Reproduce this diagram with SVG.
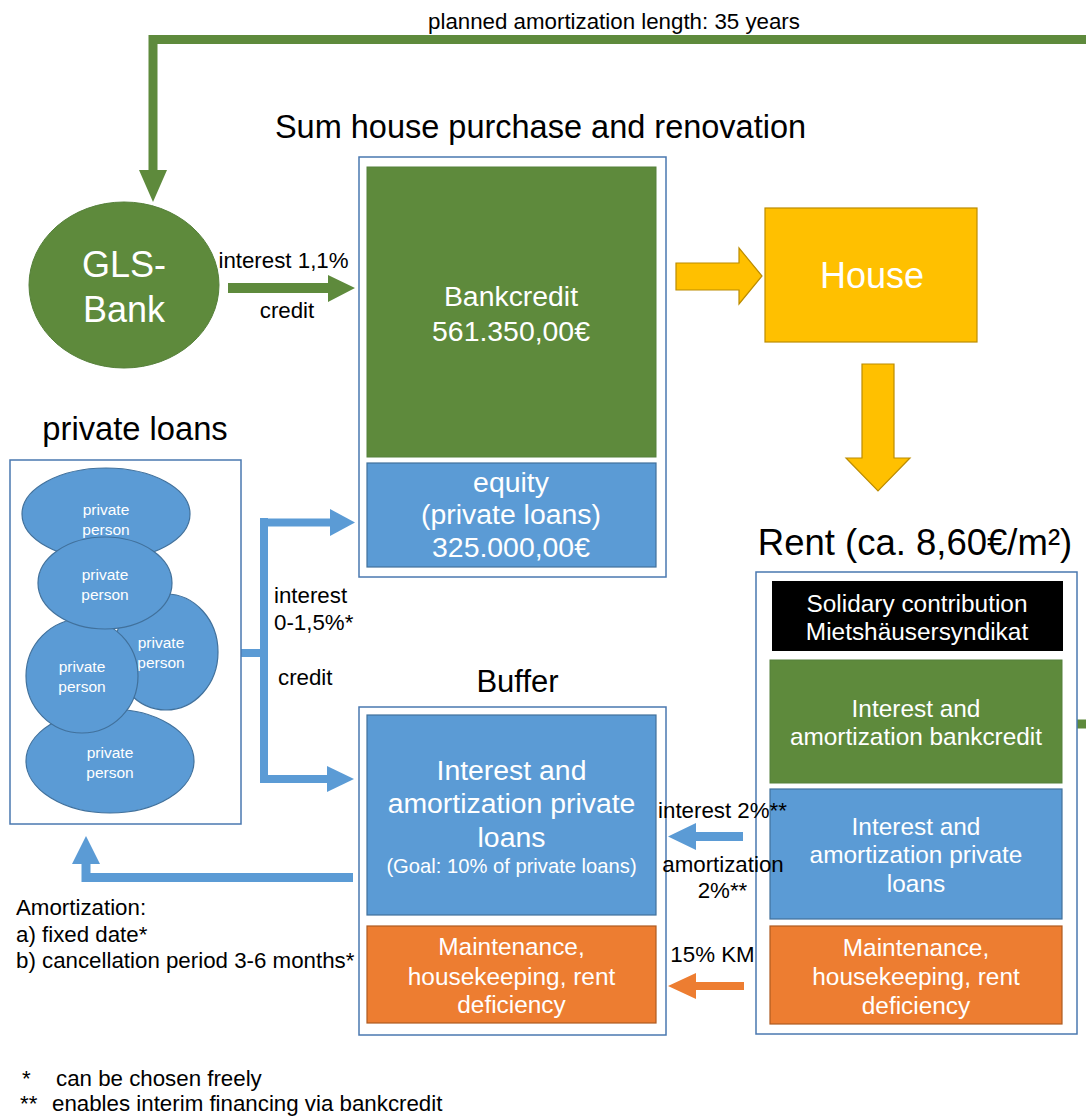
<svg xmlns="http://www.w3.org/2000/svg" width="1086" height="1117" viewBox="0 0 1086 1117">
<style>
text{font-family:"Liberation Sans",Arial,sans-serif;}
.w{fill:#fff;text-anchor:middle;}
.c{text-anchor:middle;}
.lbl{font-size:22.3px;}
.frame{fill:#fff;stroke:#4A78B0;stroke-width:1.5;}
.green{fill:#5E8A3C;stroke:#55803A;stroke-width:1;}
.blue{fill:#5B9BD5;stroke:#41719C;stroke-width:1.2;}
.orange{fill:#ED7D31;stroke:#AE5A21;stroke-width:1.2;}
.yellow{fill:#FFC000;stroke:#BC8C00;stroke-width:1.2;}
.pp{fill:#5B9BD5;stroke:#41719C;stroke-width:1.2;}
.ppt{fill:#fff;text-anchor:middle;font-size:15.5px;}
.big{font-size:28.4px;}
.mid{font-size:24.4px;}
</style>
<rect width="1086" height="1117" fill="#fff"/>

<g id="connectors">
  <path d="M1077,724 H1092 V39.5 H153 V172" fill="none" stroke="#5E8A3C" stroke-width="9"/>
  <polygon points="139,170 167,170 153,202" fill="#5E8A3C"/>
  <polygon points="228,283 328,283 328,275 355,288 328,302 328,293 228,293" fill="#5E8A3C"/>
  <polygon class="yellow" points="676,263 739,263 739,248 762,276 739,304 739,290 676,290"/>
  <polygon class="yellow" points="862,364 894,364 894,458 910,458 878,491 846,458 862,458"/>
  <path d="M241,653 H264 M264,518 V783 M260,522.5 H332 M260,779 H330" fill="none" stroke="#5B9BD5" stroke-width="8"/>
  <polygon points="330,509 355,522.5 330,536" fill="#5B9BD5"/>
  <polygon points="327,766 354,779 327,792" fill="#5B9BD5"/>
  <path d="M353,877.5 H86 V862" fill="none" stroke="#5B9BD5" stroke-width="9"/>
  <polygon points="72,864 100,864 86,836" fill="#5B9BD5"/>
  <polygon points="743,832 696,832 696,823 668,836.5 696,850 696,841 743,841" fill="#5B9BD5"/>
  <polygon points="744,982 696,982 696,973 668,986 696,999 696,990 744,990" fill="#ED7D31"/>
</g>

<g id="gls-bank">
  <ellipse cx="124" cy="285" rx="95" ry="83" fill="#5E8A3C" stroke="#55803A"/>
  <text x="124" y="277" class="w" font-size="36">GLS-</text>
  <text x="124" y="322" class="w" font-size="36">Bank</text>
</g>

<g id="sum">
  <text x="540.5" y="138" class="c" font-size="32.5">Sum house purchase and renovation</text>
  <rect class="frame" x="359" y="157" width="307" height="420"/>
  <rect class="green" x="367" y="167" width="289" height="290"/>
  <text x="511" y="306" class="w big">Bankcredit</text>
  <text x="511" y="341" class="w big">561.350,00€</text>
  <rect class="blue" x="367" y="463" width="289" height="104"/>
  <text x="511" y="492" class="w big">equity</text>
  <text x="511" y="524" class="w big">(private loans)</text>
  <text x="511" y="557" class="w big">325.000,00€</text>
</g>

<g id="house">
  <rect class="yellow" x="765" y="208" width="212" height="134"/>
  <text x="872" y="288" class="w" font-size="36">House</text>
</g>

<g id="private-loans">
  <text x="135" y="440" class="c" font-size="32.7">private loans</text>
  <rect class="frame" x="10" y="460" width="231" height="364"/>
  <ellipse class="pp" cx="106" cy="514" rx="84" ry="46"/>
  <text x="106" y="515" class="ppt">private</text>
  <text x="106" y="535" class="ppt">person</text>
  <ellipse class="pp" cx="110" cy="761" rx="84" ry="52"/>
  <text x="110" y="758" class="ppt">private</text>
  <text x="110" y="778" class="ppt">person</text>
  <ellipse class="pp" cx="166" cy="652" rx="52" ry="58"/>
  <text x="161" y="648" class="ppt">private</text>
  <text x="161" y="668" class="ppt">person</text>
  <ellipse class="pp" cx="82" cy="676" rx="56" ry="57"/>
  <text x="82" y="672" class="ppt">private</text>
  <text x="82" y="692" class="ppt">person</text>
  <ellipse class="pp" cx="105" cy="583" rx="67" ry="46"/>
  <text x="105" y="580" class="ppt">private</text>
  <text x="105" y="600" class="ppt">person</text>
</g>

<g id="buffer">
  <text x="517.5" y="692" class="c" font-size="31">Buffer</text>
  <rect class="frame" x="359" y="707" width="307" height="328"/>
  <rect class="blue" x="367" y="715" width="289" height="200"/>
  <text x="511.5" y="780" class="w big">Interest and</text>
  <text x="511.5" y="813" class="w big">amortization private</text>
  <text x="511.5" y="847" class="w big">loans</text>
  <text x="511.5" y="873" class="w" font-size="20.2">(Goal: 10% of private loans)</text>
  <rect class="orange" x="367" y="926" width="289" height="97"/>
  <text x="511.5" y="955" class="w mid">Maintenance,</text>
  <text x="511.5" y="985" class="w mid">housekeeping, rent</text>
  <text x="511.5" y="1013" class="w mid">deficiency</text>
</g>

<g id="rent">
  <text x="915" y="555" class="c" font-size="36.5">Rent (ca. 8,60€/m²)</text>
  <rect class="frame" x="756" y="572" width="321" height="462"/>
  <rect x="772" y="581" width="291" height="70" fill="#000"/>
  <text x="917" y="612" class="w mid">Solidary contribution</text>
  <text x="917" y="640" class="w mid">Mietshäusersyndikat</text>
  <rect class="green" x="770" y="660" width="292" height="123"/>
  <text x="916" y="717" class="w mid">Interest and</text>
  <text x="916" y="745" class="w mid">amortization bankcredit</text>
  <rect class="blue" x="770" y="789" width="292" height="130"/>
  <text x="916" y="835" class="w mid">Interest and</text>
  <text x="916" y="863" class="w mid">amortization private</text>
  <text x="916" y="892" class="w mid">loans</text>
  <rect class="orange" x="770" y="926" width="292" height="98"/>
  <text x="916" y="956" class="w mid">Maintenance,</text>
  <text x="916" y="985" class="w mid">housekeeping, rent</text>
  <text x="916" y="1014" class="w mid">deficiency</text>
</g>

<g id="connector-labels">
  <text x="614" y="29" class="c lbl">planned amortization length: 35 years</text>
  <text x="283.5" y="268" class="c lbl">interest 1,1%</text>
  <text x="287" y="318" class="c lbl">credit</text>
  <text x="274" y="603" class="lbl">interest</text>
  <text x="274" y="630" class="lbl">0-1,5%*</text>
  <text x="278" y="685" class="lbl">credit</text>
  <text x="722.5" y="818" class="c lbl">interest 2%**</text>
  <text x="723" y="872" class="c lbl">amortization</text>
  <text x="722.5" y="898" class="c lbl">2%**</text>
  <text x="712.5" y="962" class="c lbl">15% KM</text>
</g>

<g id="notes">
  <text x="16" y="915" class="lbl">Amortization:</text>
  <text x="16" y="942" class="lbl">a) fixed date*</text>
  <text x="16" y="968" class="lbl">b) cancellation period 3-6 months*</text>
  <text x="22" y="1086" class="lbl">*</text>
  <text x="56" y="1086" class="lbl">can be chosen freely</text>
  <text x="20" y="1111" class="lbl">**</text>
  <text x="52" y="1111" class="lbl">enables interim financing via bankcredit</text>
</g>
</svg>
